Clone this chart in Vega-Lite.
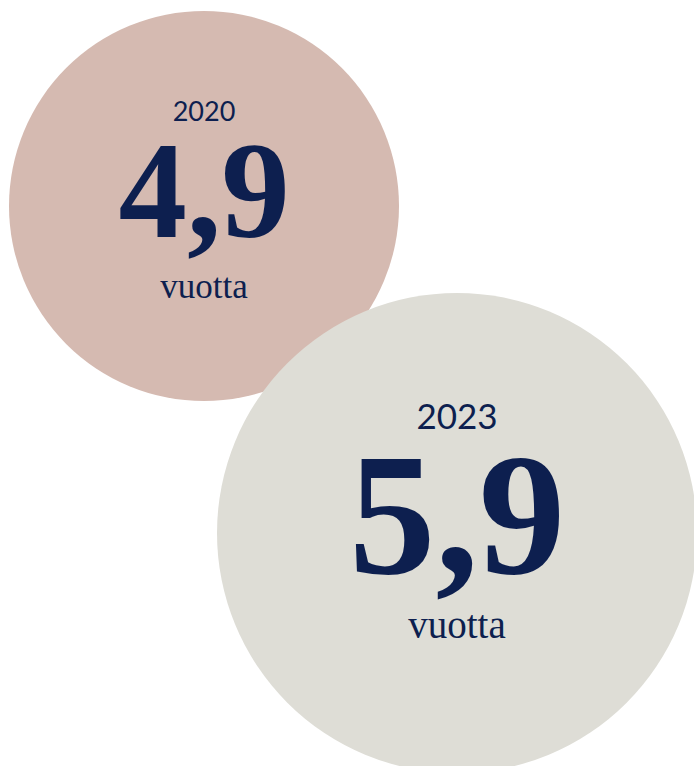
{
  "$schema": "https://vega.github.io/schema/vega-lite/v6.json",
  "width": 694,
  "height": 766,
  "padding": 0,
  "autosize": {"type": "none"},
  "background": "#ffffff",
  "config": {"view": {"stroke": null}},
  "data": {
    "values": [
      {"year": 2020, "value": 4.9, "label": "4,9", "unit": "vuotta"},
      {"year": 2023, "value": 5.9, "label": "5,9", "unit": "vuotta"}
    ]
  },
  "encoding": {
    "x": {"field": "year", "type": "quantitative", "scale": {"domain": [2020, 2023], "range": [204, 457]}, "axis": null},
    "y": {"field": "year", "type": "quantitative", "scale": {"domain": [2020, 2023], "range": [206, 533]}, "axis": null}
  },
  "layer": [
    {
      "mark": {"type": "circle", "opacity": 1},
      "encoding": {
        "size": {"field": "value", "type": "quantitative", "scale": {"domain": [4.9, 5.9], "range": [152100, 230400]}, "legend": null},
        "color": {"field": "year", "type": "nominal", "scale": {"domain": [2020, 2023], "range": ["#d5bab1", "#deddd6"]}, "legend": null},
        "order": {"field": "year"}
      }
    },
    {
      "transform": [{"filter": "datum.year == 2020"}],
      "mark": {"type": "text", "font": "Lato", "fontSize": 27, "baseline": "alphabetic", "align": "center", "dy": -85, "color": "#0d1f4f"},
      "encoding": {"text": {"field": "year", "type": "nominal"}}
    },
    {
      "transform": [{"filter": "datum.year == 2020"}],
      "mark": {"type": "text", "font": "Liberation Serif", "fontWeight": "bold", "fontSize": 137, "letterSpacing": 13, "baseline": "alphabetic", "align": "center", "dy": 31, "color": "#0d1f4f"},
      "encoding": {"text": {"field": "label", "type": "nominal"}}
    },
    {
      "transform": [{"filter": "datum.year == 2020"}],
      "mark": {"type": "text", "font": "Liberation Serif", "fontSize": 35, "baseline": "alphabetic", "align": "center", "dy": 92, "color": "#0d1f4f"},
      "encoding": {"text": {"field": "unit", "type": "nominal"}}
    },
    {
      "transform": [{"filter": "datum.year == 2023"}],
      "mark": {"type": "text", "font": "Lato", "fontSize": 35, "baseline": "alphabetic", "align": "center", "dy": -104, "color": "#0d1f4f"},
      "encoding": {"text": {"field": "year", "type": "nominal"}}
    },
    {
      "transform": [{"filter": "datum.year == 2023"}],
      "mark": {"type": "text", "font": "Liberation Serif", "fontWeight": "bold", "fontSize": 173, "letterSpacing": 14, "baseline": "alphabetic", "align": "center", "dy": 40, "color": "#0d1f4f"},
      "encoding": {"text": {"field": "label", "type": "nominal"}}
    },
    {
      "transform": [{"filter": "datum.year == 2023"}],
      "mark": {"type": "text", "font": "Liberation Serif", "fontSize": 39, "baseline": "alphabetic", "align": "center", "dy": 105, "color": "#0d1f4f"},
      "encoding": {"text": {"field": "unit", "type": "nominal"}}
    }
  ]
}
